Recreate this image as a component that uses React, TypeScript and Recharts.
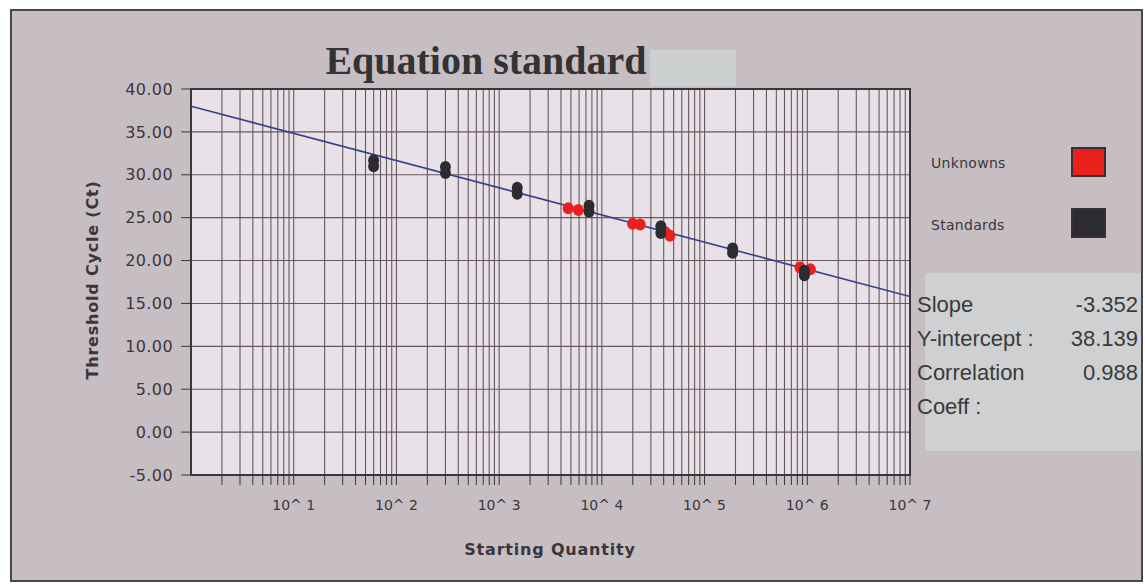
import { CartesianGrid, ReferenceArea, Scatter, ScatterChart, XAxis, YAxis } from "recharts";

// x axis: log decades 10^0 .. 10^7
const decadeExponents = [0, 1, 2, 3, 4, 5, 6, 7];
const xTickLabels = ["", "10^ 1", "10^ 2", "10^ 3", "10^ 4", "10^ 5", "10^ 6", "10^ 7"];
const minorSteps = [1, 2, 3, 4, 5, 6, 7, 8, 9];
const yTicks = [-5, 0, 5, 10, 15, 20, 25, 30, 35, 40];

// standards: 5-fold dilutions, duplicates
const standardQty = [60, 60, 300, 300, 1500, 1500, 7500, 7500, 37500, 37500, 187500, 187500, 937500, 937500];
const standardCt = [31.7, 31.0, 30.9, 30.2, 28.5, 27.8, 26.4, 25.7, 24.0, 23.2, 21.4, 20.9, 18.8, 18.3];

const unknownQty = [4700, 5900, 19900, 23600, 41500, 46000, 850000, 1070000];
const unknownCt = [26.1, 25.9, 24.3, 24.2, 23.3, 22.9, 19.2, 19.0];

// regression line as drawn (ends of the plot)
const fitQty = [1, 1e7];
const fitCt = [38.0, 15.8];

const statLabels = ["Slope", "Y-intercept :", "Correlation", "Coeff :"];
const statValues = ["-3.352", "38.139", "0.988", ""];

const legendItems = [
  { name: "Unknowns", color: "#e8211d" },
  { name: "Standards", color: "#2b2b30" },
];

const xTicks: number[] = [];
decadeExponents.slice(0, -1).forEach((k) => {
  minorSteps.forEach((m) => {
    const v = m * 10 ** k;
    if (v > 1) xTicks.push(v);
  });
});
xTicks.push(10 ** 7);

const toPoints = (qs: number[], cts: number[]) => qs.map((q, i) => ({ q, ct: cts[i] }));
const standards = toPoints(standardQty, standardCt);
const unknowns = toPoints(unknownQty, unknownCt);
const fitLine = toPoints(fitQty, fitCt);

const xLabel = (v: number) => {
  const idx = decadeExponents.findIndex((k) => 10 ** k === v);
  return idx >= 0 ? xTickLabels[idx] : "";
};

const dot = (color: string) => (props: any) =>
  <ellipse cx={props.cx} cy={props.cy} rx={5.5} ry={6} fill={color} />;

const INK = "#3a363a";
const GRID = "#66585d";
const macFont = "'DejaVu Sans', Verdana, sans-serif";

export default function App() {
  return (
    <div style={{ position: "absolute", left: 0, top: 0, width: 1145, height: 586, background: "#fff", overflow: "hidden" }}>
      <div
        style={{
          position: "absolute",
          left: 10,
          top: 9,
          width: 1133,
          height: 573,
          boxSizing: "border-box",
          border: "2px solid #4a4649",
          background: "#c7bec4",
        }}
      />
      {/* pale patch behind the end of the title */}
      <div style={{ position: "absolute", left: 650, top: 50, width: 86, height: 36, background: "#cdd0d1" }} />
      {/* stats panel */}
      <div style={{ position: "absolute", left: 925, top: 273, width: 216, height: 178, background: "#cfd0d2" }} />

      <div
        style={{
          position: "absolute",
          left: 0,
          top: 36,
          width: 972,
          textAlign: "center",
          fontFamily: "'Liberation Serif', 'Times New Roman', serif",
          fontWeight: 700,
          fontSize: 40,
          color: "#333",
          lineHeight: "50px",
        }}
      >
        Equation standard
      </div>

      <div style={{ position: "absolute", left: 0, top: 0 }}>
        <ScatterChart width={1145} height={586} margin={{ top: 89, right: 235, bottom: 61, left: 101 }}>
          <CartesianGrid stroke={GRID} strokeWidth={1.1} fill="#e8e2e8" />
          <XAxis
            dataKey="q"
            type="number"
            scale="log"
            domain={[1, 1e7]}
            allowDataOverflow
            ticks={xTicks}
            interval={0}
            tickFormatter={xLabel}
            tick={{ fill: INK, fontSize: 14, fontFamily: macFont }}
            tickLine={{ stroke: INK }}
            axisLine={{ stroke: INK, strokeWidth: 2 }}
            tickSize={10}
            tickMargin={15}
            height={50}
          />
          <YAxis
            dataKey="ct"
            type="number"
            domain={[-5, 40]}
            allowDataOverflow
            ticks={yTicks}
            interval={0}
            tickFormatter={(v: number) => v.toFixed(2)}
            tick={{ fill: INK, fontSize: 16, fontFamily: macFont, letterSpacing: 0.4 }}
            tickLine={{ stroke: INK }}
            axisLine={{ stroke: INK, strokeWidth: 2 }}
            tickSize={10}
            tickMargin={8}
            width={90}
          />
          <ReferenceArea x1={1} x2={1e7} y1={-5} y2={40} fill="none" stroke={INK} strokeWidth={2} strokeOpacity={1} />
          <Scatter data={fitLine} line={{ stroke: "#35418c", strokeWidth: 1.6 }} shape={() => <g />} isAnimationActive={false} />
          <Scatter data={unknowns} shape={dot(legendItems[0].color)} isAnimationActive={false} />
          <Scatter data={standards} shape={dot(legendItems[1].color)} isAnimationActive={false} />
        </ScatterChart>
      </div>

      {/* axis titles */}
      <div
        style={{
          position: "absolute",
          left: 92,
          top: 280,
          transform: "translate(-50%, -50%) rotate(-90deg)",
          whiteSpace: "nowrap",
          fontFamily: macFont,
          fontWeight: 700,
          fontSize: 16,
          letterSpacing: 0.8,
          color: INK,
        }}
      >
        Threshold Cycle (Ct)
      </div>
      <div
        style={{
          position: "absolute",
          left: 550,
          top: 549,
          transform: "translate(-50%, -50%)",
          whiteSpace: "nowrap",
          fontFamily: macFont,
          fontWeight: 700,
          fontSize: 16,
          letterSpacing: 0.8,
          color: INK,
        }}
      >
        Starting Quantity
      </div>

      {/* legend */}
      {legendItems.map((it, i) => (
        <div key={it.name}>
          <div
            style={{
              position: "absolute",
              left: 931,
              top: 163 + i * 62,
              transform: "translateY(-50%)",
              fontFamily: macFont,
              fontSize: 14,
              color: INK,
              letterSpacing: 0.3,
            }}
          >
            {it.name}
          </div>
          <div
            style={{
              position: "absolute",
              left: 1071,
              top: 147 + i * 61,
              width: 35,
              height: 30,
              boxSizing: "border-box",
              border: "2px solid #3a2f33",
              background: it.color,
            }}
          />
        </div>
      ))}

      {/* regression stats */}
      {statLabels.map((label, i) => (
        <div
          key={label}
          style={{
            position: "absolute",
            left: 917,
            width: 221,
            top: 305 + i * 34,
            transform: "translateY(-50%)",
            display: "flex",
            justifyContent: "space-between",
            fontFamily: "'Liberation Sans', Arial, sans-serif",
            fontSize: 22,
            color: "#3a3a3a",
          }}
        >
          <span>{label}</span>
          <span>{statValues[i]}</span>
        </div>
      ))}
    </div>
  );
}
